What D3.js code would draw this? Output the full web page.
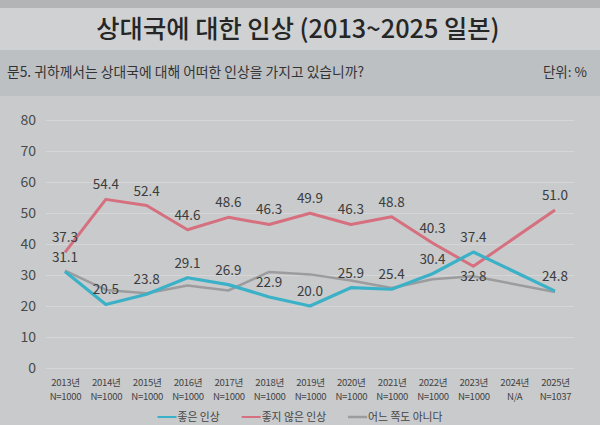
<!DOCTYPE html>
<html><head><meta charset="utf-8">
<script src="https://cdn.jsdelivr.net/npm/d3@7"></script>
<style>
html,body{margin:0;padding:0;background:#c8cacc;}
svg{display:block;}
text{font-family:"Noto Sans CJK KR","Noto Sans",sans-serif;}
</style></head>
<body>
<svg id="chart" width="600" height="425"></svg>
<script>
const years = ["2013년","2014년","2015년","2016년","2017년","2018년","2019년","2020년","2021년","2022년","2023년","2024년","2025년"];
const samples = ["N=1000","N=1000","N=1000","N=1000","N=1000","N=1000","N=1000","N=1000","N=1000","N=1000","N=1000","N/A","N=1037"];
const good    = [31.1,20.5,23.8,29.1,26.9,22.9,20.0,25.9,25.4,30.4,37.4,null,24.8];
const bad     = [37.3,54.4,52.4,44.6,48.6,46.3,49.9,46.3,48.8,40.3,32.8,null,51.0];
const neither = [31.4,25.2,24.1,26.6,25.0,31.0,30.2,28.2,25.8,28.6,29.6,null,24.5];
const yTicks  = [0,10,20,30,40,50,60,70,80];
const seriesNames = ["좋은 인상","좋지 않은 인상","어느 쪽도 아니다"];
const titleText = "상대국에 대한 인상 (2013~2025 일본)";
const questionText = "문5. 귀하께서는 상대국에 대해 어떠한 인상을 가지고 있습니까?";
const unitText = "단위: %";

const svg = d3.select("#chart");
const W = 600, H = 425;

// backgrounds
svg.append("rect").attr("x",0).attr("y",0).attr("width",W).attr("height",H).attr("fill","#c8cacc");
svg.append("rect").attr("x",0).attr("y",0).attr("width",W).attr("height",8).attr("fill","#b2b4b6");
svg.append("rect").attr("x",0).attr("y",8).attr("width",W).attr("height",42).attr("fill","#cfd1d3");
svg.append("rect").attr("x",0).attr("y",50).attr("width",W).attr("height",46).attr("fill","#bdc0c3");

svg.append("text").attr("x",298).attr("y",38).attr("text-anchor","middle")
  .attr("font-size",25.3).attr("font-weight",500).attr("fill","#262626").text(titleText);
svg.append("text").attr("x",7).attr("y",77).attr("font-size",13.8).attr("fill","#333").text(questionText);
svg.append("text").attr("x",587).attr("y",77).attr("text-anchor","end").attr("font-size",13.5).attr("fill","#333").text(unitText);

const x = d3.scalePoint().domain(years).range([65,555]);
const y = d3.scaleLinear().domain([0,80]).range([368,120]);
const left = 46, right = 574;

// y axis with gridlines
const yAxis = svg.append("g").attr("transform",`translate(${left},0)`)
  .call(d3.axisLeft(y).tickValues(yTicks).tickSize(-(right-left)).tickPadding(10).tickFormat(d3.format("d")));
yAxis.select(".domain").remove();
yAxis.selectAll(".tick line").attr("stroke","#d4d6d8").attr("stroke-width",1);
yAxis.selectAll(".tick text").attr("font-size",14).attr("fill","#4a4a4a")
  .attr("font-family","'Noto Sans CJK KR','Noto Sans',sans-serif");

// x axis labels (two separate rows)
const xAxis = svg.append("g").attr("transform","translate(0,368)")
  .call(d3.axisBottom(x).tickSize(0).tickPadding(0));
xAxis.select(".domain").remove();
xAxis.selectAll(".tick text").attr("y",18).attr("dy",null).attr("font-size",9.6).attr("fill","#444")
  .attr("letter-spacing",-0.3).attr("font-family","'Noto Sans CJK KR','Noto Sans',sans-serif");
xAxis.selectAll(".tick").append("text").attr("y",32).attr("font-size",9.6).attr("fill","#444")
  .attr("letter-spacing",-0.3).attr("text-anchor","middle")
  .attr("font-family","'Noto Sans CJK KR','Noto Sans',sans-serif")
  .text(d=>samples[years.indexOf(d)]);

const series = [
  {name:seriesNames[2], vals:neither, color:"#9c9c9e", w:2.5, labels:false},
  {name:seriesNames[1], vals:bad, color:"#d66f7e", w:3, labels:true},
  {name:seriesNames[0], vals:good, color:"#3bb1c7", w:3.2, labels:true}
];

const line = d3.line().x(d=>x(d.year)).y(d=>y(d.v));
series.forEach(s=>{
  const pts = years.map((yr,i)=>({year:yr,v:s.vals[i]})).filter(d=>d.v!=null);
  svg.append("path").datum(pts).attr("d",line).attr("fill","none")
    .attr("stroke",s.color).attr("stroke-width",s.w).attr("stroke-linejoin","round");
});

// data labels
series.filter(s=>s.labels).forEach(s=>{
  const pts = years.map((yr,i)=>({year:yr,v:s.vals[i],i})).filter(d=>d.v!=null);
  svg.append("g").selectAll("text").data(pts).join("text")
    .attr("x",d=>x(d.year))
    .attr("y",d=>(s.vals===bad && d.i===10) ? y(d.v)+15 : y(d.v)-10)
    .attr("text-anchor","middle").attr("font-size",13.5).attr("fill","#3c3c3c")
    .text(d=>d3.format(".1f")(d.v));
});

// legend
const legendOrder = [series[2],series[1],series[0]];
const lg = svg.append("g");
let cx = 0;
const items = [];
legendOrder.forEach((s,k)=>{
  const g = lg.append("g");
  g.append("line").attr("x1",0).attr("x2",19).attr("y1",0).attr("y2",0)
    .attr("stroke",s.color).attr("stroke-width",s===series[0]?2.5:2);
  const t = g.append("text").attr("x",20).attr("y",4).attr("font-size",10.8).attr("fill","#444").text(s.name);
  items.push({g, w:20 + t.node().getComputedTextLength()});
});
const gap = 22;
const total = d3.sum(items,d=>d.w) + gap*(items.length-1);
cx = 300 - total/2;
items.forEach(it=>{ it.g.attr("transform",`translate(${cx},417)`); cx += it.w + gap; });
</script>
</body></html>
